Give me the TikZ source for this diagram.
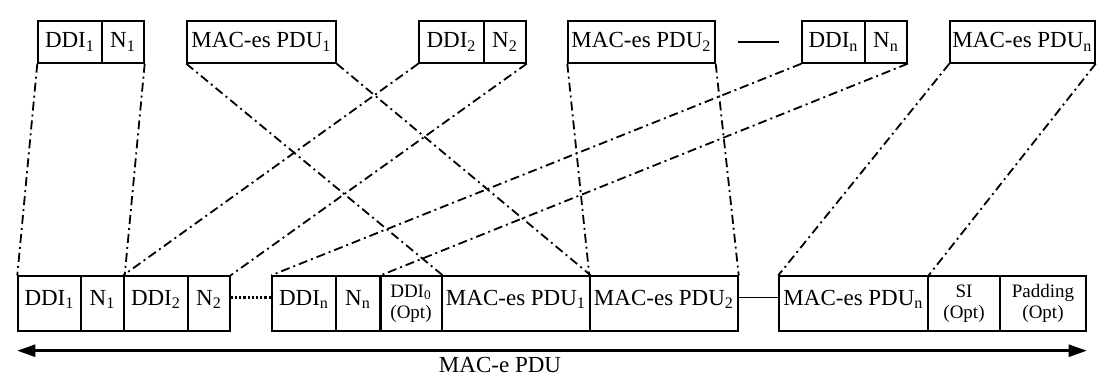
\documentclass[tikz,border=0pt]{standalone}
\usepackage{fontspec}
\setmainfont{Liberation Serif}
\usetikzlibrary{arrows.meta}
\newcommand{\sub}[1]{\textsubscript{#1}}

\begin{document}
\begin{tikzpicture}[x=0.5pt,y=-0.5pt,
  cell/.style={draw, line width=0.7pt, minimum height=21pt, font=\fontsize{11.5}{13}\selectfont},
  low/.style={draw, line width=0.7pt, minimum height=27.5pt, text height=8pt, text depth=6.5pt, font=\fontsize{11.5}{13}\selectfont},
  opt/.style={draw, line width=0.7pt, minimum height=27.5pt, align=center, font=\fontsize{9.5}{10.5}\selectfont},
  link/.style={line width=0.9pt, dash pattern=on 4.5pt off 2pt on 1pt off 2pt}]
\tikzstyle{every node}+=[inner sep=0pt]
\useasboundingbox (0,0) rectangle (1097,377);
% top row
\node [cell, minimum width=32pt] (t1a) at (70,42) {DDI\sub{1}};
\node [cell, minimum width=21pt] (t1b) at (123,42) {N\sub{1}};
\node [cell, minimum width=74.5pt] (tp1) at (261.5,42) {MAC-es PDU\sub{1}};
\node [cell, minimum width=32.5pt] (t2a) at (451.5,42) {DDI\sub{2}};
\node [cell, minimum width=21pt] (t2b) at (505,42) {N\sub{2}};
\node [cell, minimum width=73.5pt] (tp2) at (641.5,42) {MAC-es PDU\sub{2}};
\node [cell, minimum width=31.5pt] (tna) at (833.5,42) {DDI\sub{n}};
\node [cell, minimum width=21pt] (tnb) at (886,42) {N\sub{n}};
\node [cell, minimum width=72.5pt] (tpn) at (1022.5,42) {MAC-es PDU\sub{n}};
\draw [line width=0.7pt] ([xshift=11pt]tp2.east) -- ([xshift=-11pt]tna.west);
% bottom row
\node [low, minimum width=31.5pt] (b1a) at (49.5,303.5) {DDI\sub{1}};
\node [low, minimum width=21.5pt] (b1b) at (102.5,303.5) {N\sub{1}};
\node [low, minimum width=32pt] (b2a) at (156,303.5) {DDI\sub{2}};
\node [low, minimum width=21pt] (b2b) at (209,303.5) {N\sub{2}};
\node [low, minimum width=32pt] (bna) at (304,303.5) {DDI\sub{n}};
\node [low, minimum width=22pt] (bnb) at (358,303.5) {N\sub{n}};
\node [opt, minimum width=31pt] (b0) at (411,303.5) {DDI\sub{0}\\(Opt)};
\node [low, minimum width=74pt] (bp1) at (516,303.5) {MAC-es PDU\sub{1}};
\node [low, minimum width=74pt] (bp2) at (664,303.5) {MAC-es PDU\sub{2}};
\node [low, minimum width=74.5pt] (bpn) at (853.5,303.5) {MAC-es PDU\sub{n}};
\node [opt, minimum width=36pt] (bsi) at (964,303.5) {SI\\(Opt)};
\node [opt, minimum width=43pt] (bpad) at (1043,303.5) {Padding\\(Opt)};
\draw [line width=1.4pt] (bnb.north east) -- (bnb.south east);
\draw [densely dotted, line width=1.1pt] ([yshift=3pt]b2b.east) -- ([yshift=3pt]bna.west);
\draw [line width=0.7pt] ([yshift=3pt]bp2.east) -- ([yshift=3pt]bpn.west);
% mapping lines
\draw [link] (t1a.south west) -- (b1a.north west);
\draw [link] (t1b.south east) -- (b1b.north east);
\draw [link] (tp1.south west) -- (b0.north east);
\draw [link] (tp1.south east) -- (bp1.north east);
\draw [link] (t2a.south west) -- (b2a.north west);
\draw [link] (t2b.south east) -- (b2b.north east);
\draw [link] (tp2.south west) -- (bp2.north west);
\draw [link] (tp2.south east) -- (bp2.north east);
\draw [link] (tna.south west) -- (bna.north west);
\draw [link] (tnb.south east) -- (bnb.north east);
\draw [link] (tpn.south west) -- (bpn.north west);
\draw [link] (tpn.south east) -- (bpn.north east);
% length arrow
\coordinate (ml) at ([yshift=-9.5pt]b1a.south west);
\coordinate (mr) at ([yshift=-9.5pt]bpad.south east);
\draw [line width=1.3pt, {Triangle[length=9pt,width=6pt]}-{Triangle[length=9pt,width=6pt]}] (ml) -- (mr);
\node [font=\fontsize{11.5}{13}\selectfont] (pdu) at (500,365) {MAC-e PDU};
\end{tikzpicture}
\end{document}
